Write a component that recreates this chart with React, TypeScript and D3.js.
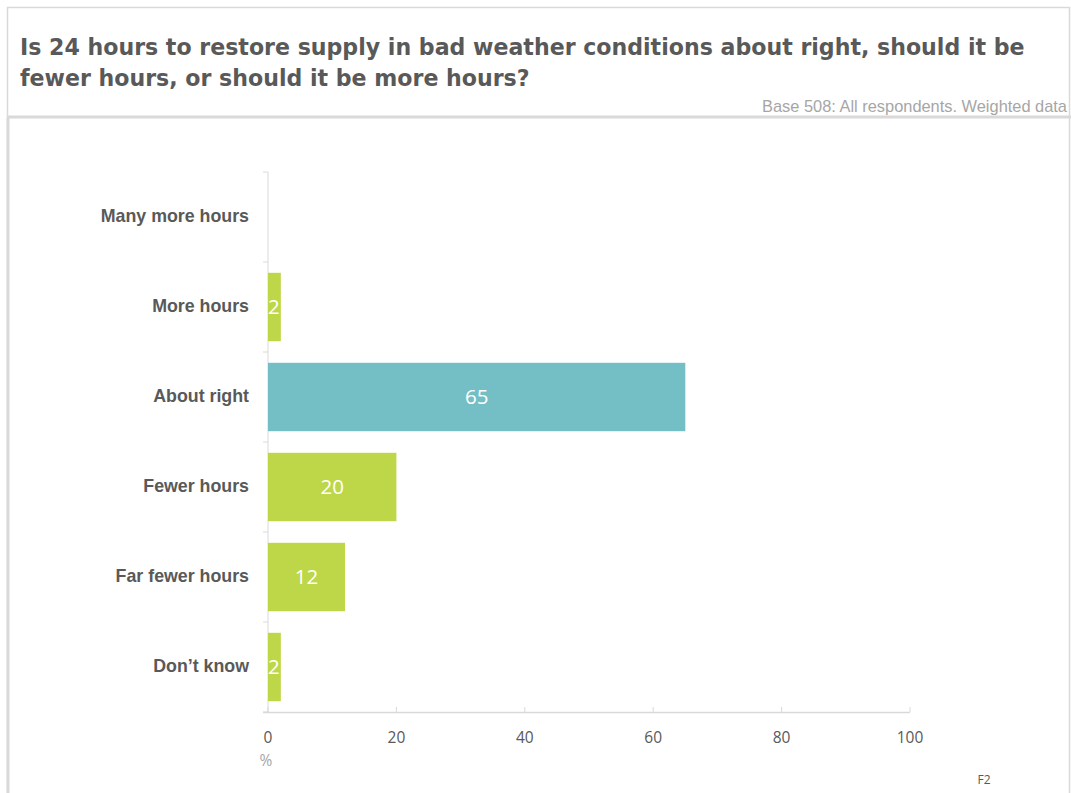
import React from "react";
import * as d3 from "d3";

const categories = ["Many more hours", "More hours", "About right", "Fewer hours", "Far fewer hours", "Don’t know"];
const values: (number | null)[] = [null, 2, 65, 20, 12, 2];
const highlight = ["About right"];
const xTicks = [0, 20, 40, 60, 80, 100];

const titleLines = [
  "Is 24 hours to restore supply in bad weather conditions about right, should it be",
  "fewer hours, or should it be more hours?",
];
const baseNote = "Base 508: All respondents. Weighted data";
const unitLabel = "%";
const slideRef = "F2";

const W = 1071;
const H = 793;
const GREEN = "#bdd748";
const TEAL = "#73bfc5";
const GRID = "#d9d9d9";
const TEXT = "#595959";

export default function App() {
  const x = d3.scaleLinear().domain([0, 100]).range([268, 910]);
  const y = d3.scaleBand<string>().domain(categories).range([172, 712]).paddingInner(0.24).paddingOuter(0.12);
  const bandEdges = d3.range(categories.length + 1).map((i) => 172 + i * 90);

  return (
    <svg
      width={W}
      height={H}
      style={{ position: "absolute", left: 0, top: 0, background: "#fff" }}
      fontFamily="Arial, 'Liberation Sans', sans-serif"
    >
      {/* frame */}
      <rect x={7.5} y={7.5} width={1062} height={800} fill="none" stroke={GRID} strokeWidth={1.5} />
      <line x1={8} x2={8} y1={118} y2={793} stroke={GRID} strokeWidth={3} />
      <line x1={7} x2={1071} y1={117} y2={117} stroke={GRID} strokeWidth={3} />

      {/* title */}
      {titleLines.map((t, i) => (
        <text
          key={i}
          x={20}
          y={55 + i * 31}
          fontFamily="'DejaVu Sans', Verdana, sans-serif"
          fontWeight="bold"
          fontSize={22.1}
          fill={TEXT}
        >
          {t}
        </text>
      ))}
      <text x={1067} y={112} textAnchor="end" fontSize={16.4} fill="#a6a6a6">
        {baseNote}
      </text>

      {/* category axis */}
      <line x1={268} x2={268} y1={172} y2={712} stroke={GRID} strokeWidth={1} />
      {bandEdges.map((e, i) => (
        <line key={i} x1={263} x2={268} y1={e} y2={e} stroke={GRID} strokeWidth={1} />
      ))}
      {categories.map((c) => (
        <text
          key={c}
          x={249}
          y={(y(c) ?? 0) + y.bandwidth() / 2 - 1.5}
          dy="0.35em"
          textAnchor="end"
          fontWeight="bold"
          fontSize={17.8}
          fill={TEXT}
        >
          {c}
        </text>
      ))}

      {/* value axis */}
      <line x1={263} x2={910} y1={712.5} y2={712.5} stroke={GRID} strokeWidth={1.5} />
      {xTicks.map((t) => (
        <g key={t}>
          <line x1={x(t)} x2={x(t)} y1={707} y2={712} stroke={GRID} strokeWidth={1} />
          <text x={x(t)} y={743} textAnchor="middle" fontFamily="'Open Sans', sans-serif" fontSize={15.5} fill={TEXT}>
            {t}
          </text>
        </g>
      ))}
      <text x={266} y={766} textAnchor="middle" fontFamily="'Open Sans', sans-serif" fontSize={15.5} fill="#a6a6a6">
        {unitLabel}
      </text>

      {/* bars */}
      {categories.map((c, i) => {
        const v = values[i];
        if (v == null) return null;
        const y0 = y(c) ?? 0;
        const w = x(v) - x(0);
        const small = w < 30;
        return (
          <g key={c}>
            <rect x={x(0)} y={y0} width={w} height={y.bandwidth()} fill={highlight.includes(c) ? TEAL : GREEN} />
            <text
              x={small ? x(0) : x(0) + w / 2}
              y={y0 + y.bandwidth() / 2}
              dy="0.36em"
              textAnchor={small ? "start" : "middle"}
              fontFamily="'Open Sans', sans-serif"
              fontSize={20.5}
              fill="#fff"
            >
              {v}
            </text>
          </g>
        );
      })}

      <text x={984} y={784} textAnchor="middle" fontFamily="'Open Sans', sans-serif" fontSize={12} fill={TEXT}>
        {slideRef}
      </text>
    </svg>
  );
}
